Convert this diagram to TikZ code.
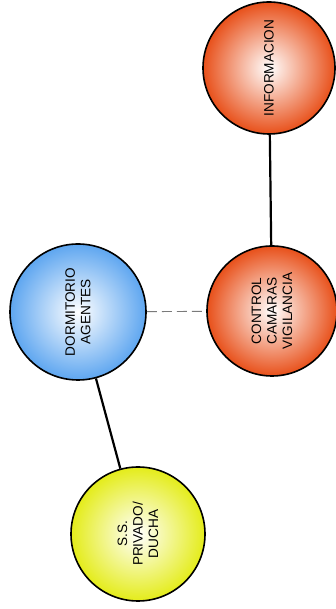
\documentclass[tikz,border=0pt]{standalone}
\usepackage{fontspec}
\setsansfont{Liberation Sans}
\usepackage{tikz}
\usetikzlibrary{positioning}
\definecolor{flame}{HTML}{E8501A}
\definecolor{sky}{HTML}{5EA6F0}
\definecolor{lemon}{HTML}{E4EC1A}
\definecolor{dashgray}{HTML}{7A7A7A}

\begin{document}
\begin{tikzpicture}[x=1pt,y=1pt,font=\sffamily\fontsize{13.6}{15.5}\selectfont,
    room/.style={circle,draw=black,line width=1.6pt,inner sep=0pt,align=center,
      rotate=90,shading=radial,inner color=white},
    link/.style={line width=2.2pt},
    loose/.style={draw=dashgray,line width=0.9pt,dash pattern=on 10pt off 5pt}]
  \useasboundingbox (0,0) rectangle (335,609);
  % rooms
  \node[room,minimum size=132pt,outer color=flame] (info) at (269,541) {INFORMACION};
  \node[room,minimum size=130pt,outer color=flame] (control) at (272,298) {CONTROL\\CAMARAS\\VIGILANCIA};
  \node[room,minimum size=136pt,outer color=sky] (dorm) at (78,297) {DORMITORIO\\AGENTES};
  \node[room,minimum size=134pt,outer color=lemon] (bath) at (138,75) {S.S.\\PRIVADO/\\DUCHA};
  % links
  \draw[link] (info) -- (control);
  \draw[loose] (dorm) -- (control);
  \draw[link] (dorm) -- (bath);
\end{tikzpicture}
\end{document}
